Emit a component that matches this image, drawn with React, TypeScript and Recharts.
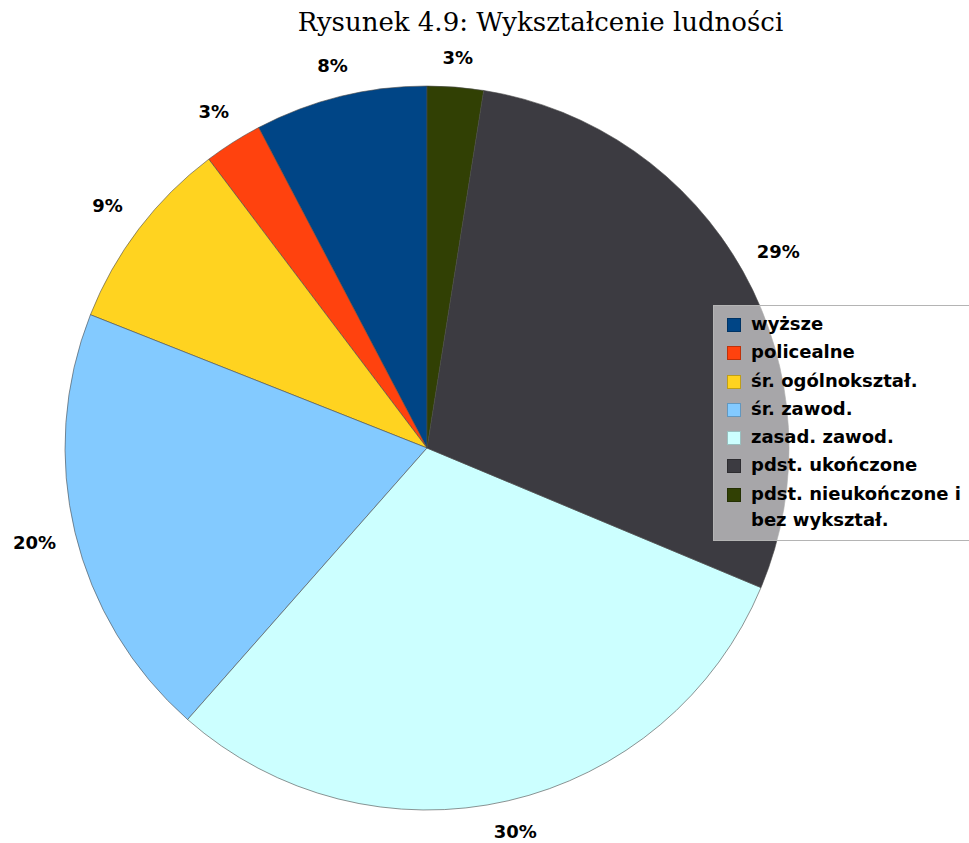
import React from 'react';
import { PieChart, Pie, Cell, Legend } from 'recharts';

// legend order; pie is drawn counter-clockwise from 12 o'clock
const categories = [
  'wyższe',
  'policealne',
  'śr. ogólnokształ.',
  'śr. zawod.',
  'zasad. zawod.',
  'pdst. ukończone',
  'pdst. nieukończone i bez wykształ.',
];
const shares = [7.7, 2.6, 8.7, 19.5, 30.2, 28.8, 2.5];
const COLORS = ['#004586', '#ff420e', '#ffd320', '#83caff', '#ccffff', '#3c3b41', '#314004'];

const data = categories.map((name, i) => ({ name, value: shares[i] }));
const total = shares.reduce((a, b) => a + b, 0);

const RADIAN = Math.PI / 180;

const renderLabel = (props: any) => {
  const { cx, cy, midAngle, outerRadius, value } = props;
  const c = Math.cos(-midAngle * RADIAN);
  const s = Math.sin(-midAngle * RADIAN);
  // labels sit a bit further out on the sides, where the text is wider
  const r = outerRadius + 29 + 13 * Math.abs(c);
  return (
    <text
      x={cx + r * c}
      y={cy + r * s}
      fill="#000"
      textAnchor="middle"
      dominantBaseline="central"
      style={{ fontFamily: 'DejaVu Sans', fontWeight: 'bold', fontSize: 18 }}
    >
      {`${Math.round((value / total) * 100)}%`}
    </text>
  );
};

const renderLegend = () => (
  <div
    style={{
      width: 270,
      height: 236,
      boxSizing: 'border-box',
      background: 'rgba(255,255,255,0.55)',
      border: '1px solid #b4b4b4',
      padding: '5px 0 0 13px',
      fontFamily: 'DejaVu Sans',
      fontWeight: 'bold',
      fontSize: 18,
      color: '#000',
    }}
  >
    {categories.map((c, i) => (
      <div key={c} style={{ display: 'flex', alignItems: 'flex-start', minHeight: 28.3 }}>
        <span
          style={{
            display: 'inline-block',
            width: 14,
            height: 14,
            marginTop: 7,
            marginRight: 10,
            flexShrink: 0,
            background: COLORS[i],
            border: '1px solid rgba(0,0,0,0.25)',
            boxSizing: 'border-box',
          }}
        />
        <span style={{ lineHeight: '26px', width: 225 }}>{c}</span>
      </div>
    ))}
  </div>
);

export default function App() {
  return (
    <div
      style={{
        position: 'absolute',
        left: 0,
        top: 0,
        width: 969,
        height: 843,
        overflow: 'hidden',
        background: '#fff',
      }}
    >
      <div
        style={{
          position: 'absolute',
          left: 0,
          width: 969,
          top: 7,
          textAlign: 'center',
          paddingLeft: 112,
          boxSizing: 'border-box',
          fontFamily: 'DejaVu Serif',
          fontSize: 26,
          color: '#000',
        }}
      >
        Rysunek 4.9: Wykształcenie ludności
      </div>
      <PieChart width={969} height={843} style={{ position: 'absolute', left: 0, top: 0 }}>
        <Pie
          data={data}
          dataKey="value"
          nameKey="name"
          cx={422}
          cy={443}
          outerRadius={362}
          startAngle={90}
          endAngle={450}
          stroke="#4a4a4a"
          strokeWidth={0.6}
          label={renderLabel}
          labelLine={false}
          isAnimationActive={false}
        >
          {data.map((entry, index) => (
            <Cell key={`cell-${index}`} fill={COLORS[index % COLORS.length]} />
          ))}
        </Pie>
        <Legend
          content={renderLegend}
          layout="vertical"
          wrapperStyle={{ position: 'absolute', left: 713, top: 305, width: 270, height: 236 }}
        />
      </PieChart>
    </div>
  );
}
